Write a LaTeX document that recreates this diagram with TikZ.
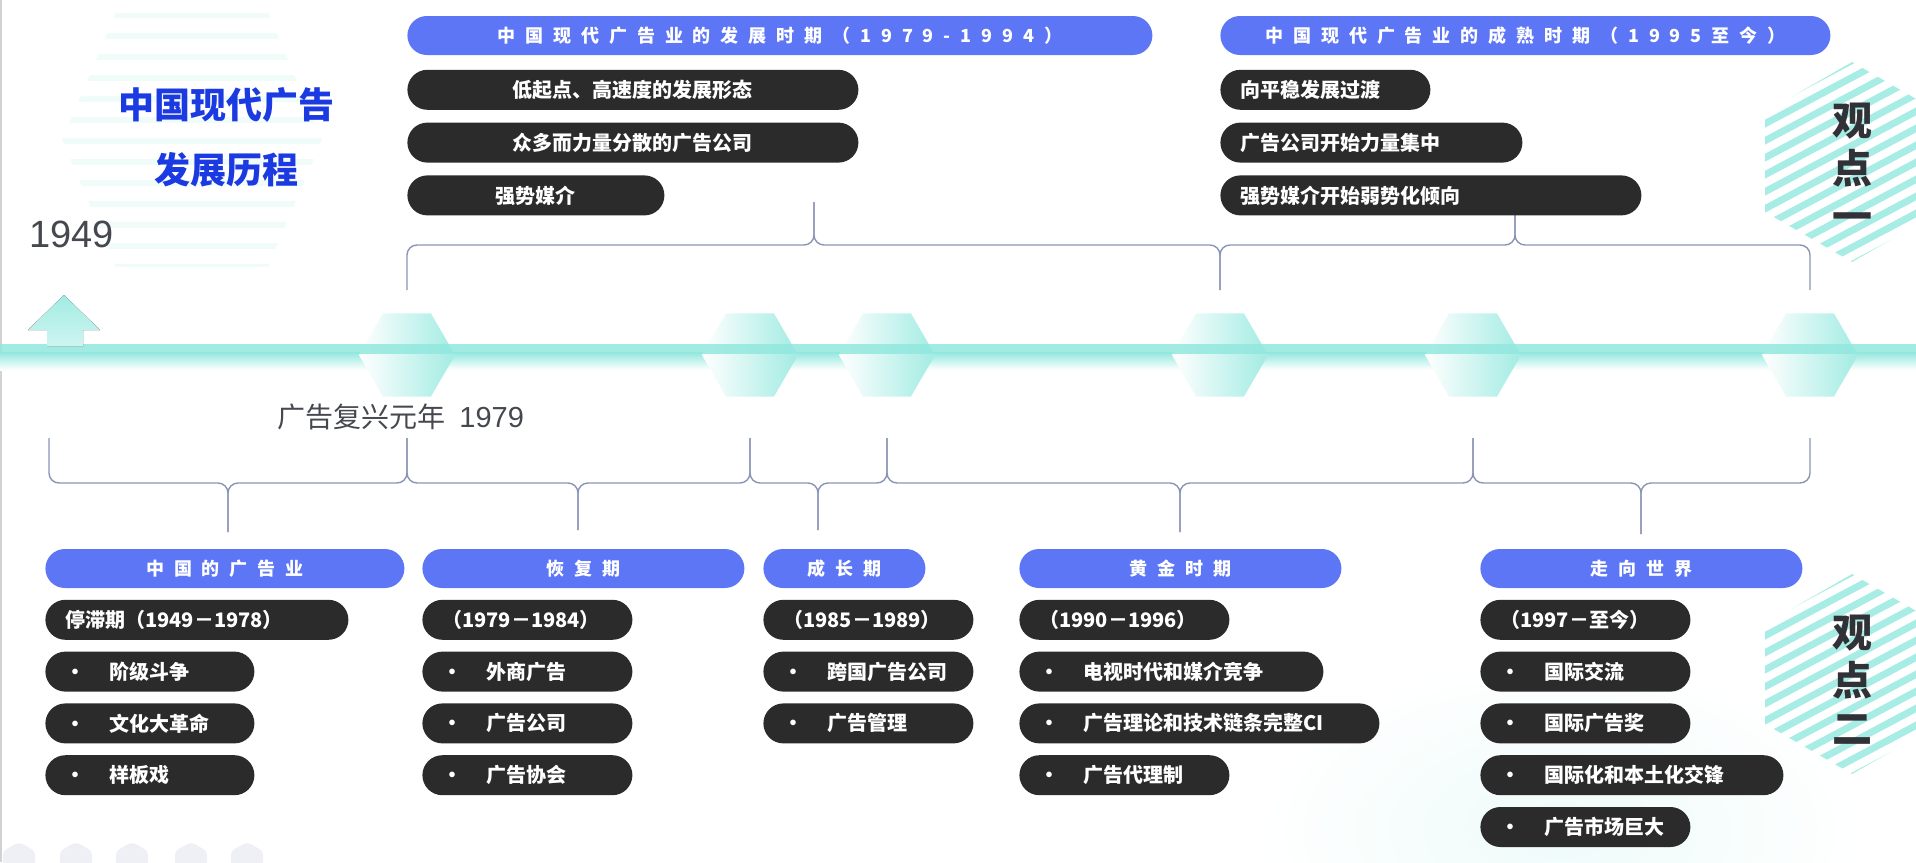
\documentclass[tikz,border=0pt]{standalone}
\usepackage{fontspec}
\setmainfont{Noto Sans CJK SC}
\newfontfamily\spacedfont{Noto Sans CJK SC}[LetterSpace=55]
\newfontfamily\latinfont{Liberation Sans}
\usetikzlibrary{positioning,shapes.geometric}
\definecolor{headblue}{RGB}{93,118,246}
\definecolor{boxdark}{RGB}{43,43,43}
\definecolor{tlcyan}{RGB}{146,232,222}
\definecolor{bracecol}{RGB}{138,148,180}
\definecolor{titleblue}{RGB}{28,58,226}
\definecolor{labelgray}{RGB}{70,72,80}
\definecolor{hexgray}{RGB}{238,240,246}
\newcommand{\dotitem}[1]{\makebox[22pt][l]{•}#1}

\begin{document}
\begin{tikzpicture}[
    x=0.5pt, y=-0.5pt,
    head/.style={fill=headblue, text=white, rounded corners=9.75pt,
                 minimum height=19.5pt, inner sep=0pt,
                 font=\spacedfont\bfseries\fontsize{9}{11}\selectfont},
    dark/.style={fill=boxdark, text=white, rounded corners=10pt,
                 minimum height=20pt, inner xsep=10pt, inner ysep=0pt,
                 text width=#1, align=left,
                 font=\bfseries\fontsize{10}{12}\selectfont},
    darkmid/.style={dark=#1, align=center},
    marker/.style={regular polygon, regular polygon sides=6, minimum size=48pt,
                   inner sep=0pt, left color=white, right color=tlcyan!85},
    brace/.style={draw=bracecol, line width=0.7pt, rounded corners=5pt},
    stripe/.style={draw=tlcyan!80, line width=3.5pt},
    viewpoint/.style={font=\bfseries\fontsize{20}{24}\selectfont,
                      text=labelgray!70!black, align=center}]

    \useasboundingbox (0,0) rectangle (1916,862);

    % background decorations
    \draw[gray!35, line width=1pt] (1,0) -- (1,862);
    \shade[inner color=tlcyan!16, outer color=white] (1560,830) ellipse (300 and 170);
    \begin{scope}
        \clip (62,140) -- (116,13) -- (268,13) -- (322,140) -- (268,267) -- (116,267) -- cycle;
        \foreach \y in {15,36,...,267}
            \fill[tlcyan!14] (40,\y-3) rectangle (340,\y+3);
    \end{scope}
    \foreach \c in {162,674} {
        \begin{scope}
            \clip (1852,\c-100) -- (1765,\c-50) -- (1765,\c+50) -- (1852,\c+100)
                -- (1939,\c+50) -- (1939,\c-50) -- cycle;
            \foreach \k in {0,...,22}
                \draw[stripe] (1740,\c-110+\k*17) -- (1960,\c-227+\k*17);
        \end{scope}
    }
    \foreach \x in {19,76,132,191,247}
        \fill[hexgray, rounded corners=2pt] (\x,842) -- (\x+16,851) -- (\x+16,866)
            -- (\x-16,866) -- (\x-16,851) -- cycle;

    % timeline
    \fill[top color=tlcyan, bottom color=white] (0,352) rectangle (1916,370);
    \foreach \n/\x in {1/407,2/750,3/887,4/1220,5/1473,6/1810}
        \node[marker] (m\n) at (\x,355) {};
    \fill[tlcyan, opacity=0.85] (0,344) rectangle (1916,354);
    \fill[top color=tlcyan!85, bottom color=tlcyan!45]
        (64,295) -- (100,330) -- (83,330) -- (83,346) -- (47,346) -- (47,330) -- (28,330) -- cycle;

    % braces
    \coordinate (tend) at (0,290);
    \coordinate (tbar) at (0,245);
    \coordinate (bend) at (0,438);
    \coordinate (bbar) at (0,483);
    \coordinate (b0) at (49,438);
    \coordinate (tip1) at (814,202);
    \coordinate (tip2) at (1515,212);
    \coordinate (tipA) at (228,532);
    \coordinate (tipB) at (578,530);
    \coordinate (tipC) at (818,530);
    \coordinate (tipD) at (1180,532);
    \coordinate (tipE) at (1641,534);
    \foreach \a/\b/\t in {m1/m4/tip1, m4/m6/tip2} {
        \draw[brace] (\a |- tend) |- (\t |- tbar) -- (\t);
        \draw[brace] (\b |- tend) |- (\t |- tbar) -- (\t);
    }
    \foreach \a/\b/\t in {b0/m1/tipA, m1/m2/tipB, m2/m3/tipC, m3/m5/tipD, m5/m6/tipE} {
        \draw[brace] (\a |- bend) |- (\t |- bbar) -- (\t);
        \draw[brace] (\b |- bend) |- (\t |- bbar) -- (\t);
    }

    % titles and labels
    \node[font=\bfseries\fontsize{18}{32.5}\selectfont, text=titleblue, align=center] (title) at (226,137) {中国现代广告\\发展历程};
    \node[font=\latinfont\fontsize{19}{22}\selectfont, text=labelgray, anchor=base west, inner sep=0pt] (y1949) at (29,247) {1949};
    \node[font=\fontsize{14}{16}\selectfont, text=labelgray, anchor=base west, inner sep=0pt] (y1979) at (277,427) {广告复兴元年\hspace{7pt}{\latinfont\fontsize{14.5}{16}\selectfont 1979}};
    \node[viewpoint] (view1) at (1852,167) {观\\点\\一};
    \node[viewpoint] (view2) at (1852,680) {观\\点\\二};

    % developing period
    \node[head, minimum width=372.5pt, anchor=west] (th1) at (407,35.5) {中国现代广告业的发展时期（1979-1994）};
    \node[darkmid=205.5pt, below right=7pt and 0pt of th1.south west] (t11) {低起点、高速度的发展形态};
    \node[darkmid=205.5pt, below right=6pt and 0pt of t11.south west] (t12) {众多而力量分散的广告公司};
    \node[darkmid=108.5pt, below right=6pt and 0pt of t12.south west] (t13) {强势媒介};

    % mature period
    \node[head, minimum width=305pt, anchor=west] (th2) at (1220,35.5) {中国现代广告业的成熟时期（1995至今）};
    \node[dark=85pt, below right=7pt and 0pt of th2.south west] (t21) {向平稳发展过渡};
    \node[dark=131pt, below right=6pt and 0pt of t21.south west] (t22) {广告公司开始力量集中};
    \node[dark=190.5pt, below right=6pt and 0pt of t22.south west] (t23) {强势媒介开始弱势化倾向};

    % bottom columns
    \node[head, minimum width=179.5pt, anchor=west] (bh1) at (45,568.5) {中国的广告业};
    \node[dark=131.5pt, below right=5.5pt and 0pt of bh1.south west] (b11) {停滞期（1949－1978）};
    \node[dark=84.5pt, below right=5.5pt and 0pt of b11.south west] (b12) {\dotitem{阶级斗争}};
    \node[dark=84.5pt, below right=5.5pt and 0pt of b12.south west] (b13) {\dotitem{文化大革命}};
    \node[dark=84.5pt, below right=5.5pt and 0pt of b13.south west] (b14) {\dotitem{样板戏}};

    \node[head, minimum width=161pt, anchor=west] (bh2) at (422,568.5) {恢复期};
    \node[dark=85pt, below right=5.5pt and 0pt of bh2.south west] (b21) {（1979－1984）};
    \node[dark=85pt, below right=5.5pt and 0pt of b21.south west] (b22) {\dotitem{外商广告}};
    \node[dark=85pt, below right=5.5pt and 0pt of b22.south west] (b23) {\dotitem{广告公司}};
    \node[dark=85pt, below right=5.5pt and 0pt of b23.south west] (b24) {\dotitem{广告协会}};

    \node[head, minimum width=81pt, anchor=west] (bh3) at (763,568.5) {成长期};
    \node[dark=85pt, below right=5.5pt and 0pt of bh3.south west] (b31) {（1985－1989）};
    \node[dark=85pt, below right=5.5pt and 0pt of b31.south west] (b32) {\dotitem{跨国广告公司}};
    \node[dark=85pt, below right=5.5pt and 0pt of b32.south west] (b33) {\dotitem{广告管理}};

    \node[head, minimum width=161pt, anchor=west] (bh4) at (1019,568.5) {黄金时期};
    \node[dark=85pt, below right=5.5pt and 0pt of bh4.south west] (b41) {（1990－1996）};
    \node[dark=132pt, below right=5.5pt and 0pt of b41.south west] (b42) {\dotitem{电视时代和媒介竞争}};
    \node[dark=160pt, below right=5.5pt and 0pt of b42.south west] (b43) {\dotitem{广告理论和技术链条完整CI}};
    \node[dark=85pt, below right=5.5pt and 0pt of b43.south west] (b44) {\dotitem{广告代理制}};

    \node[head, minimum width=161pt, anchor=west] (bh5) at (1480,568.5) {走向世界};
    \node[dark=85pt, below right=5.5pt and 0pt of bh5.south west] (b51) {（1997－至今）};
    \node[dark=85pt, below right=5.5pt and 0pt of b51.south west] (b52) {\dotitem{国际交流}};
    \node[dark=85pt, below right=5.5pt and 0pt of b52.south west] (b53) {\dotitem{国际广告奖}};
    \node[dark=131.5pt, below right=5.5pt and 0pt of b53.south west] (b54) {\dotitem{国际化和本土化交锋}};
    \node[dark=85pt, below right=5.5pt and 0pt of b54.south west] (b55) {\dotitem{广告市场巨大}};

\end{tikzpicture}
\end{document}
